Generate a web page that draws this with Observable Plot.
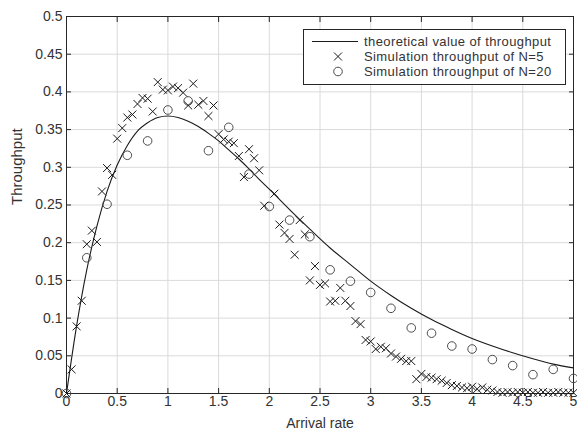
<!DOCTYPE html>
<html>
<head>
<meta charset="utf-8">
<script src="https://cdn.jsdelivr.net/npm/d3@7"></script>
<script src="https://cdn.jsdelivr.net/npm/@observablehq/plot@0.6"></script>
<style>
  body { margin: 0; background: #fff; font-family: "Liberation Sans", Arial, sans-serif; }
  #wrap { position: relative; width: 577px; height: 439px; }
  #legend { position: absolute; left: 303px; top: 29px; }
</style>
</head>
<body>
<div id="wrap"><div id="chart"></div><div id="legend"></div></div>
<script>
// Theoretical curve
const theoX = [0,0.1,0.2,0.3,0.4,0.5,0.6,0.7,0.8,0.9,1.0,1.1,1.2,1.3,1.4,1.5,1.6,1.7,1.8,1.9,2.0,2.2,2.4,2.6,2.8,3.0,3.2,3.4,3.6,3.8,4.0,4.2,4.4,4.6,4.8,5.0];
const theoY = [0,0.090,0.164,0.222,0.268,0.303,0.329,0.348,0.359,0.366,0.368,0.366,0.361,0.354,0.345,0.335,0.323,0.311,0.298,0.284,0.271,0.244,0.218,0.193,0.171,0.149,0.130,0.113,0.098,0.085,0.073,0.063,0.054,0.046,0.039,0.034];

// Simulation N=5 (crosses)
const n5X = [0,0.05,0.1,0.15,0.2,0.25,0.3,0.35,0.4,0.45,0.5,0.55,0.6,0.65,0.7,0.75,0.8,0.85,0.9,0.95,1.0,1.05,1.1,1.15,1.2,1.25,1.3,1.35,1.4,1.45,1.5,1.55,1.6,1.65,1.7,1.75,1.8,1.85,1.9,1.95,2.05,2.1,2.15,2.2,2.25,2.3,2.35,2.4,2.45,2.5,2.55,2.6,2.65,2.7,2.75,2.8,2.85,2.9,2.95,3.0,3.05,3.1,3.15,3.2,3.25,3.3,3.35,3.4,3.45,3.5,3.55,3.6,3.65,3.7,3.75,3.8,3.85,3.9,3.95,4.0,4.05,4.1,4.15,4.2,4.25,4.3,4.35,4.4,4.45,4.5,4.55,4.6,4.65,4.7,4.75,4.8,4.85,4.9,4.95,5.0];
const n5Y = [0,0.032,0.089,0.123,0.198,0.216,0.201,0.268,0.299,0.290,0.338,0.352,0.366,0.370,0.384,0.392,0.391,0.374,0.413,0.403,0.402,0.407,0.405,0.399,0.382,0.411,0.383,0.388,0.368,0.382,0.344,0.337,0.334,0.332,0.315,0.287,0.324,0.312,0.296,0.249,0.265,0.224,0.213,0.205,0.184,0.230,0.211,0.150,0.169,0.144,0.146,0.122,0.123,0.140,0.123,0.116,0.096,0.092,0.071,0.069,0.059,0.062,0.060,0.053,0.049,0.046,0.043,0.043,0.019,0.026,0.022,0.021,0.019,0.017,0.014,0.011,0.010,0.008,0.007,0.009,0.006,0.008,0.005,0.004,0.002,0.001,0.002,0.001,0.002,0.001,0.002,0.001,0.001,0.002,0.001,0.001,0.002,0.001,0.001,0.001];

// Simulation N=20 (circles)
const n20X = [0,0.2,0.4,0.6,0.8,1.0,1.2,1.4,1.6,1.8,2.0,2.2,2.4,2.6,2.8,3.0,3.2,3.4,3.6,3.8,4.0,4.2,4.4,4.6,4.8,5.0];
const n20Y = [0,0.180,0.251,0.316,0.335,0.376,0.388,0.322,0.353,0.291,0.248,0.230,0.208,0.164,0.149,0.134,0.113,0.087,0.080,0.063,0.059,0.045,0.037,0.025,0.032,0.020];

const xTicks = [0,0.5,1,1.5,2,2.5,3,3.5,4,4.5,5];
const yTicks = [0,0.05,0.1,0.15,0.2,0.25,0.3,0.35,0.4,0.45,0.5];

const legendLabels = ["theoretical value of throughput", "Simulation throughput of N=5", "Simulation throughput of N=20"];

const theo = theoX.map((x, i) => ({x, y: theoY[i]}));
const n5 = n5X.map((x, i) => ({x, y: n5Y[i]}));
const n20 = n20X.map((x, i) => ({x, y: n20Y[i]}));

const fmt = d3.format("~g");
const axisColor = "#262626";
const chart = Plot.plot({
  width: 577,
  height: 439,
  marginLeft: 66,
  marginRight: 4,
  marginTop: 16,
  marginBottom: 46,
  style: {fontFamily: "'Liberation Sans', Arial, sans-serif", fontSize: "14px", color: axisColor, background: "#fff"},
  x: {domain: [0, 5]},
  y: {domain: [0, 0.5]},
  marks: [
    Plot.gridX(xTicks, {stroke: "#dadada", strokeOpacity: 1}),
    Plot.gridY(yTicks, {stroke: "#dadada", strokeOpacity: 1}),
    Plot.axisX(xTicks, {anchor: "bottom", tickSize: -5, tickPadding: 8, tickFormat: fmt, label: null, fontSize: 14, stroke: axisColor, fill: "#333"}),
    Plot.axisX(xTicks, {anchor: "top", tickSize: -5, text: null, label: null, stroke: axisColor}),
    Plot.axisY(yTicks, {anchor: "left", tickSize: -5, tickPadding: 9, tickFormat: fmt, label: null, fontSize: 14, stroke: axisColor, fill: "#333"}),
    Plot.axisY(yTicks, {anchor: "right", tickSize: -5, text: null, label: null, stroke: axisColor}),
    Plot.frame({stroke: axisColor, strokeWidth: 1}),
    Plot.line(theo, {x: "x", y: "y", stroke: "#1a1a1a", strokeWidth: 1.1, curve: "monotone-x"}),
    Plot.dot(n20, {x: "x", y: "y", symbol: "circle", r: 4.3, stroke: "#4d4d4d", strokeWidth: 1, fill: "none"}),
    Plot.dot(n5, {x: "x", y: "y", symbol: "times", r: 3.7, stroke: "#1a1a1a", strokeWidth: 1}),
    Plot.text(["Arrival rate"], {frameAnchor: "bottom", dy: 34, fontSize: 14, fill: "#333"}),
    Plot.text(["Throughput"], {frameAnchor: "left", dx: -49, rotate: -90, fontSize: 15, fill: "#333"})
  ]
});
document.getElementById("chart").appendChild(chart);

// Legend
const lw = 263, lh = 56;
const leg = d3.select("#legend").append("svg").attr("width", lw).attr("height", lh)
  .style("font-family", "'Liberation Sans', Arial, sans-serif");
leg.append("rect").attr("x", 0.5).attr("y", 0.5).attr("width", lw - 1).attr("height", lh - 1)
  .attr("fill", "#fff").attr("stroke", axisColor);
const rowsY = [12.5, 27.5, 42.5];
leg.append("line").attr("x1", 9).attr("x2", 55).attr("y1", rowsY[0]).attr("y2", rowsY[0]).attr("stroke", "#1a1a1a");
leg.append("path").attr("d", d3.symbol(d3.symbolTimes, 43)()).attr("transform", `translate(35,${rowsY[1]})`)
  .attr("stroke", "#1a1a1a").attr("fill", "none");
leg.append("circle").attr("cx", 35).attr("cy", rowsY[2]).attr("r", 4.3).attr("stroke", "#4d4d4d").attr("fill", "none");
legendLabels.forEach((t, i) => {
  leg.append("text").attr("x", 61).attr("y", rowsY[i]).attr("dy", "0.35em")
    .attr("font-size", 13).attr("letter-spacing", "0.4px").attr("fill", "#333").text(t);
});
</script>
</body>
</html>
